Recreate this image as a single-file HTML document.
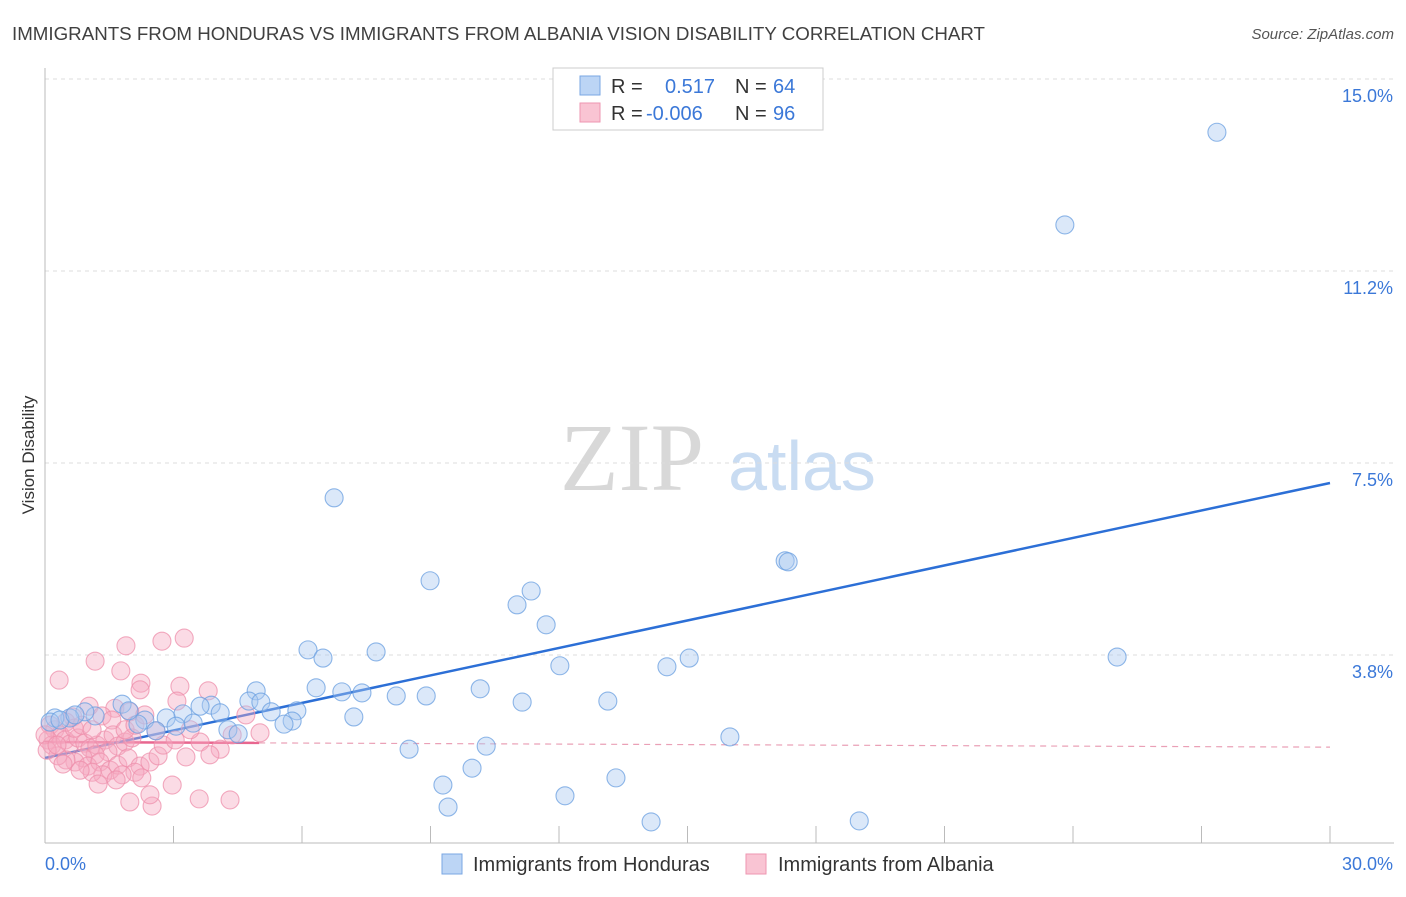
<!DOCTYPE html>
<html><head><meta charset="utf-8"><style>
body{margin:0;background:#fff;font-family:"Liberation Sans",sans-serif;}
svg text{font-family:"Liberation Sans",sans-serif;}
</style></head><body>
<svg id="chart" width="1406" height="892" viewBox="0 0 1406 892" xmlns="http://www.w3.org/2000/svg">
<text x="12" y="40" font-size="18" fill="#404040" textLength="973" lengthAdjust="spacingAndGlyphs">IMMIGRANTS FROM HONDURAS VS IMMIGRANTS FROM ALBANIA VISION DISABILITY CORRELATION CHART</text>
<text x="1394" y="39" font-size="15" fill="#555" font-style="italic" text-anchor="end">Source: ZipAtlas.com</text>
<g>
<text x="632" y="490" font-size="96" fill="#d8d8d8" text-anchor="middle" style="font-family:'Liberation Serif',serif">ZIP</text>
<text x="802" y="490" font-size="70" fill="#c9dcf2" text-anchor="middle">atlas</text>
</g>
<g id="grid"></g>
<g id="axes"></g>
<g id="lines"></g>
<g id="points"></g>
<text transform="translate(34,455) rotate(-90)" font-size="17" fill="#333" text-anchor="middle">Vision Disability</text>
<g>
<rect x="553" y="68" width="270" height="62" fill="#fff" stroke="#ccc"/>
<rect x="580" y="76" width="20" height="19" fill="#bcd5f5" stroke="#7aa7e3"/>
<rect x="580" y="103" width="20" height="19" fill="#f9c4d3" stroke="#ee96b0"/>
<text x="611" y="93" font-size="20" fill="#333">R =</text>
<text x="665" y="93" font-size="20" fill="#3b78d8">0.517</text>
<text x="735" y="93" font-size="20" fill="#333">N =</text>
<text x="773" y="93" font-size="20" fill="#3b78d8">64</text>
<text x="611" y="120" font-size="20" fill="#333">R =</text>
<text x="646" y="120" font-size="20" fill="#3b78d8">-0.006</text>
<text x="735" y="120" font-size="20" fill="#333">N =</text>
<text x="773" y="120" font-size="20" fill="#3b78d8">96</text>
</g>
<g>
<rect x="442" y="854" width="20" height="20" fill="#bcd5f5" stroke="#7aa7e3"/>
<text x="473" y="871" font-size="20" fill="#333">Immigrants from Honduras</text>
<rect x="746" y="854" width="20" height="20" fill="#f9c4d3" stroke="#ee96b0"/>
<text x="778" y="871" font-size="20" fill="#333">Immigrants from Albania</text>
</g>
</svg>
<script>
const xTickLabels=["0.0%","30.0%"];
const yTicks=[3.75,7.5,11.25,15];
const yTickLabels=["3.8%","7.5%","11.2%","15.0%"];
const hondurasX=[27.36,23.81,6.75,8.99,11.35,11.02,11.70,17.28,17.35,25.03,6.14,6.49,7.73,12.02,14.52,15.04,6.33,6.93,7.40,8.20,8.90,10.16,11.14,13.14,4.93,4.76,5.04,5.28,5.88,5.77,5.58,7.21,3.88,4.09,3.62,3.22,2.83,2.33,2.17,2.59,3.06,3.46,4.27,4.51,1.80,1.96,1.17,0.93,0.58,0.23,0.12,0.35,0.70,8.50,10.30,15.99,9.97,9.29,9.41,13.33,12.14,14.15,19.01];
const hondurasY=[13.96,12.15,6.82,5.20,5.00,4.73,4.34,5.59,5.57,3.71,3.85,3.69,3.81,3.54,3.52,3.69,3.11,3.03,3.01,2.95,2.95,3.09,2.83,2.85,3.05,2.85,2.83,2.64,2.66,2.46,2.40,2.54,2.77,2.62,2.75,2.60,2.52,2.48,2.40,2.27,2.36,2.42,2.29,2.21,2.79,2.66,2.56,2.64,2.52,2.52,2.44,2.48,2.58,1.91,1.97,2.15,1.54,1.21,0.78,1.35,1.00,0.49,0.51];
const albaniaX=[3.25,2.73,1.89,1.17,1.77,0.33,2.24,3.15,2.22,3.81,3.08,1.03,1.63,1.98,1.33,1.56,0.65,0.49,0.12,0.23,0.35,0.07,0.16,0.47,0.58,0.77,0.93,1.05,1.21,1.40,1.59,1.70,1.87,2.03,1.47,1.17,0.89,0.70,0.49,0.30,0.42,1.00,1.28,1.52,1.70,1.94,2.22,2.45,2.10,1.80,1.35,1.10,0.82,2.26,1.66,1.24,1.98,2.50,3.60,4.32,2.97,2.45,3.29,2.59,2.64,5.02,4.09,4.37,4.69,0.00,0.05,0.28,0.68,0.86,1.10,3.62,3.85,1.87,2.10,2.33,2.76,3.04,3.39];
const albaniaY=[4.08,4.02,3.93,3.63,3.44,3.26,3.20,3.14,3.07,3.05,2.85,2.75,2.71,2.64,2.56,2.48,2.54,2.44,2.38,2.29,2.19,2.09,1.99,2.09,2.01,2.13,2.03,1.93,1.99,2.09,2.19,1.97,2.05,2.13,1.86,1.80,1.74,1.66,1.70,1.78,1.62,1.58,1.66,1.50,1.60,1.74,1.58,1.66,1.46,1.41,1.41,1.46,1.50,1.35,1.31,1.23,0.88,0.80,0.94,0.92,1.21,1.02,1.76,2.27,1.78,2.23,1.91,2.19,2.58,2.19,1.89,1.99,2.32,2.38,2.29,2.05,1.80,2.29,2.38,2.58,1.99,2.09,2.29];
const hondurasTrend=[1.74,7.11];
const albaniaTrend=[2.05,1.95];
const albaniaSolidEnd=5.0;

const NS="http://www.w3.org/2000/svg";
const X0=45,X1=1330,XMAX=30,Y0=847,PPY=51.2;
const sx=v=>X0+v*(X1-X0)/XMAX;
const sy=v=>Y0-v*PPY;
function mk(tag,attrs,parent){const e=document.createElementNS(NS,tag);for(const k in attrs)e.setAttribute(k,attrs[k]);parent.appendChild(e);return e;}
const grid=document.getElementById('grid'),axes=document.getElementById('axes'),lines=document.getElementById('lines'),pts=document.getElementById('points');
yTicks.forEach((t,i)=>{
 const g=mk('line',{x1:X0,x2:1394,y1:sy(t),y2:sy(t),stroke:'#ddd','stroke-dasharray':'4,4'},grid);
 
 
 const tx=mk('text',{x:1393,y:sy(t)+23,'font-size':18,fill:'#3b78d8','text-anchor':'end'},axes);
 tx.textContent=yTickLabels[i];
 
 
});
const ax=mk('line',{x1:X0,x2:X0,y1:68,y2:843,stroke:'#bbb'},axes);


const xa=mk('line',{x1:X0,x2:1394,y1:843,y2:843,stroke:'#bbb'},axes);


for(let i=0;i<=10;i++){
 const v=i*3;
 const tk=mk('line',{x1:sx(v),x2:sx(v),y1:826,y2:843,stroke:'#bbb'},axes);
 
 
}
[[0,'start',45],[1,'end',1393]].forEach(([i,a,x])=>{
 const t=mk('text',{x:x,y:870,'font-size':18,fill:'#3b78d8','text-anchor':a},axes);
 t.textContent=xTickLabels[i];
 
 
});
function dots(xs,ys,fill,stroke,name){
 xs.forEach((x,i)=>{
  const c=mk('circle',{cx:sx(x),cy:sy(ys[i]),r:9,fill:fill,'fill-opacity':0.42,stroke:stroke,'stroke-width':1.1,'stroke-opacity':0.75},pts);
  
  
 });
}
dots(albaniaX,albaniaY,'#f5aac0','#ee8fab','point-albania');
dots(hondurasX,hondurasY,'#a9c8f0','#6a9fe0','point-honduras');
const pd=mk('line',{x1:sx(albaniaSolidEnd),y1:sy(albaniaTrend[0]+(albaniaTrend[1]-albaniaTrend[0])*albaniaSolidEnd/XMAX),x2:sx(XMAX),y2:sy(albaniaTrend[1]),stroke:'#eaa0b6','stroke-width':1.2,'stroke-dasharray':'6,5'},lines);


const ps=mk('line',{x1:sx(0),y1:sy(albaniaTrend[0]),x2:sx(albaniaSolidEnd),y2:sy(albaniaTrend[0]+(albaniaTrend[1]-albaniaTrend[0])*albaniaSolidEnd/XMAX),stroke:'#e8668f','stroke-width':2.5},lines);


const bl=mk('line',{x1:sx(0),y1:sy(hondurasTrend[0]),x2:sx(XMAX),y2:sy(hondurasTrend[1]),stroke:'#2c6fd6','stroke-width':2.5},lines);


</script>
</body></html>
